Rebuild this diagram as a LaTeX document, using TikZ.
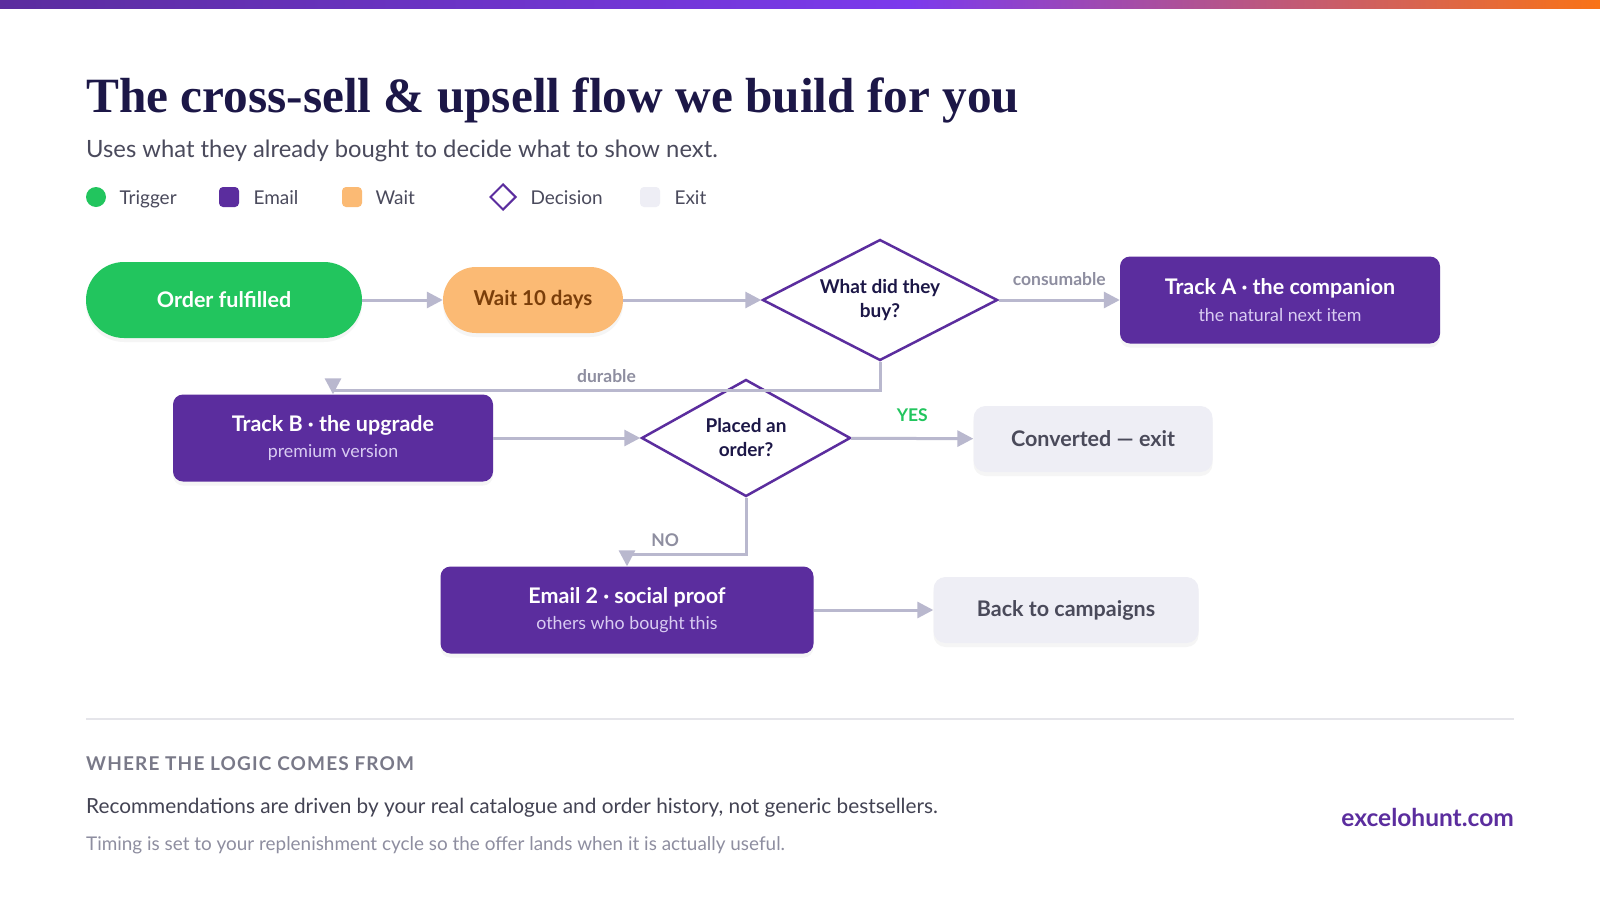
\documentclass[tikz,border=0pt]{standalone}
\usepackage{fontspec}
\setmainfont{Lato}
\newfontfamily\titlefont{Liberation Serif}
\newfontfamily\spacedfont[LetterSpace=6]{Lato}
\usetikzlibrary{positioning,shapes.geometric,arrows.meta,shadows}

\definecolor{inkblue}{HTML}{1C1747}
\definecolor{subgray}{HTML}{4A4A5C}
\definecolor{mailpurple}{HTML}{5B2D9E}
\definecolor{barviolet}{HTML}{7C3AED}
\definecolor{barorange}{HTML}{F97316}
\definecolor{trigreen}{HTML}{22C55E}
\definecolor{waitorange}{HTML}{FBBA74}
\definecolor{waitbrown}{HTML}{7A3E0A}
\definecolor{exitfill}{HTML}{EEEEF5}
\definecolor{exittext}{HTML}{4A4A5A}
\definecolor{flowgray}{HTML}{B9B8CE}
\definecolor{lblgray}{HTML}{8E8EA0}
\definecolor{sublav}{HTML}{D9CCF2}
\definecolor{rulegray}{HTML}{E5E5EA}

\newcommand\fsz[2]{\fontsize{#1}{#2}\selectfont}

\tikzset{
  flow/.style={draw=flowgray,line width=3pt,-{Triangle[length=16pt,width=16pt]}},
  lbl/.style={font=\bfseries\fsz{17.5}{20},text=lblgray},
  softshadow/.style={drop shadow={opacity=0.08,shadow xshift=0pt,shadow yshift=-4pt}},
  trigger/.style={fill=trigreen,rounded corners=38pt,text=white,font=\bfseries\fsz{21.5}{25},
    minimum width=276pt,minimum height=76pt,softshadow},
  waitbox/.style={fill=waitorange,rounded corners=33pt,text=waitbrown,font=\bfseries\fsz{20.5}{24},
    minimum width=180pt,minimum height=66pt,softshadow},
  decision/.style={diamond,draw=mailpurple,line width=2.5pt,fill=white,text=inkblue,align=center,
    font=\bfseries\fsz{19}{24},inner sep=0pt,shape aspect=1.9},
  email/.style={fill=mailpurple,rounded corners=10pt,text=white,align=center,
    minimum height=87pt,softshadow},
  exitbox/.style={fill=exitfill,rounded corners=12pt,text=exittext,font=\bfseries\fsz{21.5}{25},
    minimum height=66pt,softshadow},
  legtxt/.style={anchor=base west,text=subgray,font=\fsz{19}{22}},
}

\newcommand\twoline[2]{{\bfseries\fsz{21.5}{26}#1}\\[9pt]{\fsz{17.8}{21}\color{sublav}#2}}

\begin{document}
\begin{tikzpicture}[x=1pt,y=-1pt]
\useasboundingbox (0,0) rectangle (1600,900);
\fill[white] (0,0) rectangle (1600,900);

% top bar
\shade[left color=mailpurple,right color=barviolet] (0,0) rectangle (910,8);
\shade[left color=barviolet,right color=barorange] (909,0) rectangle (1600,8);

% heading
\node[anchor=base west,inner sep=0pt,text=inkblue,font=\titlefont\bfseries\fsz{49.3}{52}] (title) at (86,112)
  {The cross-sell \& upsell flow we build for you};
\node[anchor=base west,inner sep=0pt,text=subgray,font=\fsz{23.8}{28}] (subtitle) at (86,157)
  {Uses what they already bought to decide what to show next.};

% legend
\node[circle,fill=trigreen,minimum size=20pt,inner sep=0pt] (legtrig) at (96,197) {};
\node[legtxt] (legtrigt) at (116,204) {Trigger};
\node[fill=mailpurple,rounded corners=4pt,minimum size=20pt,inner sep=0pt] (legmail) at (229,197) {};
\node[legtxt] (legmailt) at (250,204) {Email};
\node[fill=waitorange,rounded corners=4pt,minimum size=20pt,inner sep=0pt] (legwait) at (352,197) {};
\node[legtxt] (legwaitt) at (372,204) {Wait};
\node[diamond,draw=mailpurple,line width=2pt,minimum size=26pt,inner sep=0pt] (legdec) at (503,197) {};
\node[legtxt] (legdect) at (527,204) {Decision};
\node[fill=exitfill,rounded corners=4pt,minimum size=20pt,inner sep=0pt] (legexit) at (650,197) {};
\node[legtxt] (legexitt) at (671,204) {Exit};

% flow nodes
\node[trigger] (order) at (224,300) {Order fulfilled};
\node[waitbox] (wait) at (533,300) {Wait 10 days};
\node[decision,minimum width=235pt,minimum height=121pt] (buy) at (880,300) {What did they\\buy?};
\node[email,minimum width=320pt] (trackA) at (1280,300) {\twoline{Track A · the companion}{the natural next item}};
\node[email,minimum width=320pt] (trackB) at (333,438) {\twoline{Track B · the upgrade}{premium version}};
\node[decision,minimum width=209pt,minimum height=117pt] (placed) at (746,438) {Placed an\\order?};
\node[exitbox,minimum width=239pt] (converted) at (1093,439) {Converted — exit};
\node[email,minimum width=373pt] (mail2) at (627,610) {\twoline{Email 2 · social proof}{others who bought this}};
\node[exitbox,minimum width=265pt] (back) at (1066,610) {Back to campaigns};

% connectors
\draw[flow] (order) -- (wait);
\draw[flow] (wait) -- (buy);
\draw[flow] (buy) -- node[above=10pt,lbl] {consumable} (trackA);
\draw[flow] (buy.south) -- ++(0,29) -| node[pos=0.25,above=3pt,lbl] {durable} (trackB.north);
\draw[flow] (trackB) -- (placed);
\draw[flow] (placed) -- node[above=12pt,lbl,text=trigreen] {YES} (converted);
\draw[flow] (placed.south) -- ++(0,57) -| node[pos=0.34,above=3pt,lbl] {NO} (mail2.north);
\draw[flow] (mail2) -- (back);

% footer
\draw[rulegray,line width=2pt] (86,719) -- (1514,719);
\node[anchor=base west,inner sep=0pt,text=lblgray!85!black,font=\spacedfont\bfseries\fsz{19}{22}] (logichead) at (86,770)
  {WHERE THE LOGIC COMES FROM};
\node[anchor=base west,inner sep=0pt,text=subgray!90!black,font=\fsz{20.8}{24}] (reco) at (86,813)
  {Recommendations are driven by your real catalogue and order history, not generic bestsellers.};
\node[anchor=base west,inner sep=0pt,text=lblgray,font=\fsz{18.9}{22}] (timing) at (86,850)
  {Timing is set to your replenishment cycle so the offer lands when it is actually useful.};
\node[anchor=base east,inner sep=0pt,text=mailpurple,font=\bfseries\fsz{24.5}{28}] (brand) at (1514,826)
  {excelohunt.com};
\end{tikzpicture}
\end{document}
